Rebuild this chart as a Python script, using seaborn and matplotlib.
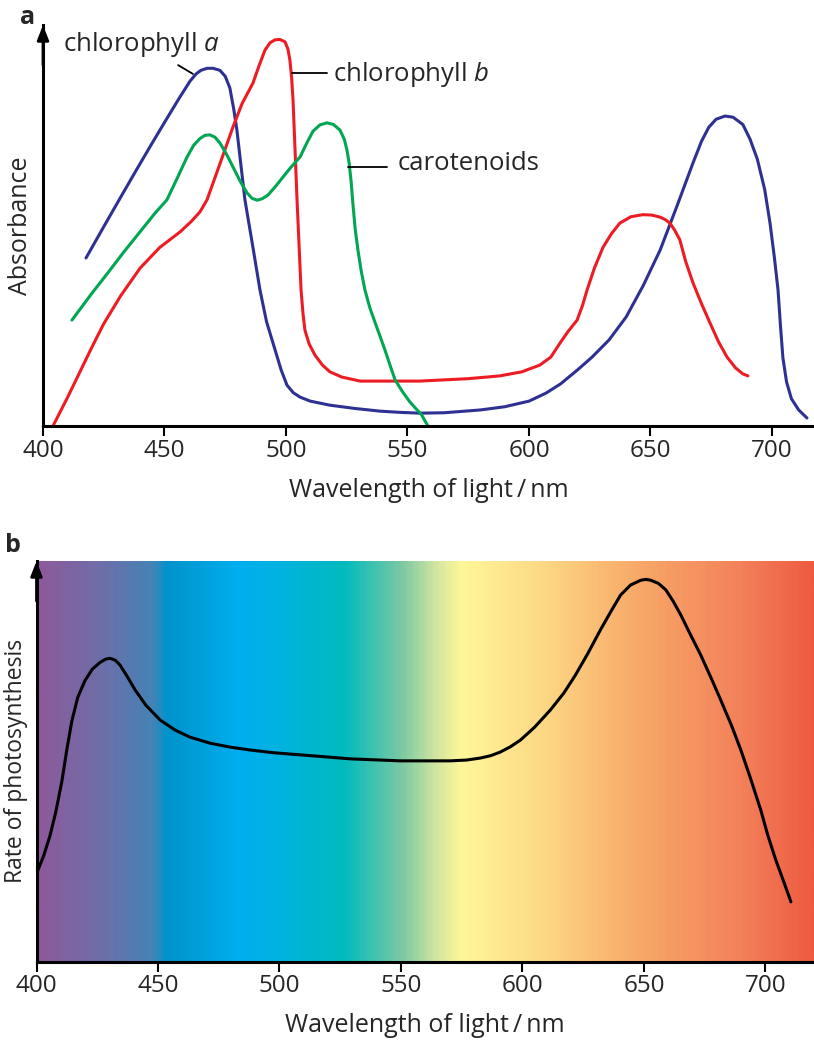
import numpy as np
import pandas as pd
import seaborn as sns
import matplotlib.pyplot as plt
from matplotlib.colors import LinearSegmentedColormap

# absorbance curves (wavelength nm, relative absorbance)
chla_nm = [417.7, 425, 432, 438, 444.0, 450, 456, 460.5, 463, 465, 467.5, 470, 472.8, 475,
           476.9, 478.5, 479.8, 483.1, 486, 489.3, 492, 495.5, 498, 500.4, 503, 505.8, 510,
           518, 528, 538.7, 547, 555, 565, 580, 590, 600, 607, 613, 620, 626, 633, 640, 647,
           654, 661, 667.5, 671, 674, 677, 680.7, 684, 688, 691, 694, 697, 699.2, 701, 702.5,
           703.5, 704.5, 706, 708, 711, 714.4]
chla_abs = [0.419, 0.497, 0.571, 0.634, 0.696, 0.757, 0.817, 0.860, 0.878, 0.887, 0.892, 0.892,
            0.887, 0.872, 0.843, 0.790, 0.738, 0.564, 0.460, 0.339, 0.260, 0.190, 0.140, 0.102,
            0.083, 0.072, 0.062, 0.052, 0.044, 0.037, 0.034, 0.032, 0.033, 0.040, 0.048, 0.062,
            0.082, 0.105, 0.140, 0.172, 0.215, 0.272, 0.350, 0.439, 0.550, 0.656, 0.710, 0.745,
            0.765, 0.773, 0.770, 0.752, 0.715, 0.665, 0.590, 0.506, 0.420, 0.339, 0.250, 0.170,
            0.110, 0.068, 0.040, 0.020]

chlb_nm = [404.1, 410, 415.2, 420, 425, 432, 440, 448, 456.4, 461, 464.6, 467.5, 472, 478.2,
           482, 486.4, 489, 491.4, 493.5, 495.5, 497.5, 499.6, 500.8, 501.6, 502.3, 502.9, 504.5,
           506.2, 507, 507.8, 509.5, 511.9, 515, 518.1, 523, 530.5, 555, 575, 588, 597, 604.5,
           609, 612.8, 616, 619.8, 622, 623.9, 627, 630.5, 634, 637.4, 642, 646.9, 650.5, 653.9,
           656, 658, 660, 662.1, 664.5, 667.5, 671, 674.5, 678, 681.5, 685, 688, 690.1]
chlb_abs = [0.0, 0.070, 0.135, 0.195, 0.255, 0.325, 0.394, 0.445, 0.484, 0.510, 0.534, 0.564,
            0.640, 0.746, 0.805, 0.855, 0.900, 0.938, 0.956, 0.963, 0.964, 0.958, 0.940, 0.913,
            0.870, 0.813, 0.571, 0.339, 0.280, 0.239, 0.205, 0.177, 0.152, 0.135, 0.122, 0.112,
            0.112, 0.118, 0.125, 0.135, 0.152, 0.172, 0.207, 0.235, 0.264, 0.300, 0.339, 0.395,
            0.446, 0.480, 0.506, 0.522, 0.527, 0.526, 0.521, 0.515, 0.506, 0.488, 0.464, 0.410,
            0.357, 0.305, 0.257, 0.210, 0.172, 0.145, 0.130, 0.125]

car_nm = [411.9, 420, 427.6, 433, 439.9, 446, 451, 455, 459.3, 462, 464.6, 466.7, 468.7, 470.8,
          472.8, 475.5, 478.2, 481, 484, 486, 488.1, 490.3, 492.6, 495.5, 498.8, 502, 505.8,
          508.5, 511.1, 514, 516.9, 519.5, 522.2, 524, 525.1, 526, 526.8, 527.6, 528.5, 529.6,
          531, 532.5, 534.5, 536.6, 538.7, 540.7, 542.8, 544.9, 548, 551, 553.5, 555.6, 558.4]
car_abs = [0.264, 0.330, 0.389, 0.432, 0.484, 0.530, 0.564, 0.615, 0.671, 0.700, 0.717, 0.725,
           0.726, 0.720, 0.706, 0.678, 0.646, 0.612, 0.581, 0.568, 0.563, 0.567, 0.576, 0.596,
           0.621, 0.645, 0.671, 0.705, 0.735, 0.751, 0.756, 0.752, 0.738, 0.715, 0.688, 0.655,
           0.610, 0.550, 0.490, 0.439, 0.385, 0.339, 0.295, 0.259, 0.224, 0.190, 0.152, 0.115,
           0.085, 0.060, 0.043, 0.030, 0.0]

# action spectrum
rate_nm = [400.2, 403, 405.6, 408, 410.5, 412.5, 414.6, 417, 420, 423, 426.2, 428.5, 430.3,
           432.5, 434.4, 437.5, 440.6, 445, 450.9, 457, 463.2, 471.5, 480, 488, 498, 508.6,
           529.1, 549.7, 570.3, 577, 582.7, 587, 590.9, 595, 599.2, 605, 611.5, 617, 621.8, 627,
           632.1, 636.5, 640.4, 644.5, 648.7, 650.8, 652.8, 656, 659, 662, 665.2, 669, 673.4,
           677.5, 681.6, 686, 689.9, 694, 698.1, 701, 704.3, 707.5, 710.5]
rate_val = [0.222, 0.265, 0.315, 0.375, 0.452, 0.530, 0.602, 0.660, 0.702, 0.730, 0.747, 0.755,
            0.757, 0.752, 0.740, 0.710, 0.678, 0.640, 0.603, 0.578, 0.560, 0.545, 0.535, 0.528,
            0.521, 0.516, 0.506, 0.501, 0.501, 0.503, 0.508, 0.514, 0.523, 0.536, 0.553, 0.585,
            0.628, 0.670, 0.715, 0.770, 0.828, 0.875, 0.915, 0.940, 0.952, 0.954, 0.952, 0.944,
            0.928, 0.900, 0.865, 0.818, 0.765, 0.710, 0.653, 0.590, 0.528, 0.455, 0.378, 0.315,
            0.253, 0.200, 0.149]

# spectrum background colour stops
spec_nm = [400, 425, 447, 453, 470, 482, 500, 526, 550, 565, 575, 590, 610, 650, 690, 720]
spec_col = ['#8E5A9B', '#6F6DA8', '#4583B6', '#0094CC', '#00A2DD', '#00AEEF', '#00B3DF',
            '#00BBBE', '#7CC9A3', '#D6E7A0', '#FFF799', '#FEE990', '#FDD784', '#F7A667',
            '#F3815A', '#EE5A40']

tick_vals = [400, 450, 500, 550, 600, 650, 700]

sns.set_style("white")
plt.rcParams['font.family'] = ['Open Sans', 'DejaVu Sans']
plt.rcParams['mathtext.fontset'] = 'custom'
plt.rcParams['mathtext.rm'] = 'Open Sans'
plt.rcParams['mathtext.it'] = 'Open Sans:italic'

W, H = 814, 1041
fig = plt.figure(figsize=(W / 100, H / 100), dpi=100)
ax1 = fig.add_axes([43 / W, 1 - 426 / H, 771 / W, 401 / H])
ax2 = fig.add_axes([36.5 / W, 1 - 961.5 / H, 777.5 / W, 400.5 / H])

# panel a
line_kw = dict(lw=2.2, estimator=None, sort=False, solid_joinstyle='round')
sns.lineplot(x=chla_nm, y=chla_abs, ax=ax1, color='#2E3192', **line_kw)
sns.lineplot(x=chlb_nm, y=chlb_abs, ax=ax1, color='#ED1C24', **line_kw)
sns.lineplot(x=car_nm, y=car_abs, ax=ax1, color='#00A651', **line_kw)
ax1.set_xlim(400, 717.3)
ax1.set_ylim(0, 1)

ax1.plot([455.6, 461.7], [0.900, 0.878], color='k', lw=1.3)
ax1.text(408.2, 0.936, 'chlorophyll $a$', fontsize=18.5, va='baseline', ha='left')
ax1.plot([502.5, 516.9], [0.880, 0.880], color='k', lw=1.3)
ax1.text(519.3, 0.861, 'chlorophyll $b$', fontsize=18.5, va='baseline', ha='left')
ax1.plot([525.5, 541.6], [0.646, 0.646], color='k', lw=1.3)
ax1.text(546.1, 0.638, 'carotenoids', fontsize=18.5, va='baseline', ha='left')

ax1.set_ylabel('Absorbance', fontsize=18, labelpad=7)

# panel b
cmap = LinearSegmentedColormap.from_list(
    'spec', list(zip([(v - 400) / (720 - 400) for v in spec_nm], spec_col)))
ax2.imshow(np.linspace(400, 720, 640)[None, :], extent=[400, 720, 0, 1], aspect='auto',
           cmap=cmap, vmin=400, vmax=720, zorder=0, interpolation='bilinear')
sns.lineplot(x=rate_nm, y=rate_val, ax=ax2, color='k', **line_kw)
ax2.set_xlim(400, 720)
ax2.set_ylim(0, 1)
ax2.set_ylabel('Rate of photosynthesis', fontsize=16.5, labelpad=6)

for ax in (ax1, ax2):
    sns.despine(ax=ax)
    for s in ('left', 'bottom'):
        ax.spines[s].set_linewidth(2.2)
        ax.spines[s].set_color('k')
    ax.set_xticks(tick_vals)
    ax.set_yticks([])
    ax.tick_params(axis='x', direction='out', length=7, width=1.5, labelsize=17.5, pad=2,
                   bottom=True, color='k')
    ax.set_xlabel('Wavelength of light\u2009/\u2009nm', fontsize=18, labelpad=11)
    ax.annotate('', xy=(0, 1), xycoords='axes fraction', xytext=(0, 0.9),
                arrowprops=dict(arrowstyle='-|>,head_length=0.9,head_width=0.35', color='k',
                                lw=2, shrinkA=0, shrinkB=0), annotation_clip=False)

fig.text(20 / W, 1 - 17 / H, 'a', fontsize=18, fontweight='bold', va='center', ha='left')
fig.text(5 / W, 1 - 546 / H, 'b', fontsize=18, fontweight='bold', va='center', ha='left')

fig.savefig('out.png', dpi=100)
